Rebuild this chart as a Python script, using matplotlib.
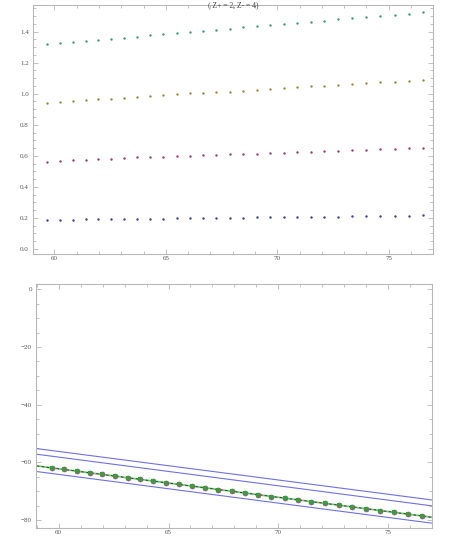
import numpy as np
import matplotlib
matplotlib.use('Agg')
import matplotlib.pyplot as plt
from matplotlib.ticker import MultipleLocator

# x positions shared by both panels
xVals = [59.69, 60.25, 60.84, 61.41, 61.97, 62.56, 63.14, 63.71, 64.29, 64.89,
         65.48, 66.07, 66.66, 67.26, 67.87, 68.47, 69.07, 69.68, 70.29, 70.89,
         71.50, 72.11, 72.74, 73.37, 73.99, 74.62, 75.26, 75.90, 76.55]

# top panel series
blueVals = [0.187, 0.189, 0.189, 0.191, 0.191, 0.193, 0.193, 0.194, 0.195, 0.196,
            0.197, 0.198, 0.200, 0.200, 0.202, 0.202, 0.203, 0.204, 0.205, 0.206,
            0.207, 0.208, 0.209, 0.210, 0.211, 0.212, 0.215, 0.215, 0.217]
redVals = [0.562, 0.569, 0.571, 0.575, 0.580, 0.582, 0.586, 0.590, 0.592, 0.595,
           0.597, 0.601, 0.603, 0.607, 0.609, 0.610, 0.614, 0.616, 0.618, 0.622,
           0.627, 0.631, 0.633, 0.637, 0.640, 0.644, 0.646, 0.650, 0.652]
oliveVals = [0.941, 0.947, 0.951, 0.957, 0.964, 0.968, 0.974, 0.979, 0.983, 0.989,
             0.996, 1.002, 1.007, 1.011, 1.013, 1.019, 1.026, 1.032, 1.036, 1.041,
             1.047, 1.051, 1.058, 1.062, 1.066, 1.073, 1.077, 1.084, 1.090]
greenVals = [1.318, 1.324, 1.331, 1.339, 1.346, 1.352, 1.361, 1.367, 1.376, 1.384,
             1.391, 1.397, 1.406, 1.412, 1.419, 1.427, 1.436, 1.442, 1.449, 1.457,
             1.464, 1.471, 1.478, 1.487, 1.496, 1.502, 1.509, 1.516, 1.524]

# bottom panel points
bottomVals = [-61.9, -62.4, -63.0, -63.6, -64.1, -64.7, -65.3, -65.9, -66.4, -67.0,
              -67.6, -68.2, -68.8, -69.4, -70.0, -70.6, -71.2, -71.8, -72.4, -73.0,
              -73.6, -74.2, -74.8, -75.4, -76.0, -76.7, -77.3, -77.9, -78.6]

# straight lines: value at x=59 and x=77
lineX = [59, 77]
fitLine = [-61.2, -79.0]
bandLines = [[-55.2, -73.0], [-57.15, -75.05], [-63.15, -81.05]]

title = '( Z+ = 2, Z- = 4)'

plt.rcParams['font.family'] = ['Liberation Serif', 'DejaVu Serif']
frameCol = '#b8b8b8'
tickLblCol = '#555555'

def styleFrame(ax, xmaj, xmin, ymaj, ymin):
   for s in ax.spines.values():
      s.set_color(frameCol)
      s.set_linewidth(0.8)
   ax.xaxis.set_major_locator(MultipleLocator(xmaj))
   ax.xaxis.set_minor_locator(MultipleLocator(xmin))
   ax.yaxis.set_major_locator(MultipleLocator(ymaj))
   ax.yaxis.set_minor_locator(MultipleLocator(ymin))
   ax.tick_params(which='both', direction='in', top=True, right=True,
                  color=frameCol, width=0.6, labelsize=5, labelcolor=tickLblCol)
   ax.tick_params(axis='x', pad=1.5)
   ax.tick_params(axis='y', pad=3)
   ax.tick_params(which='major', length=3.5)
   ax.tick_params(which='minor', length=2)

fig = plt.figure(figsize=(4.57, 5.36), dpi=100)

ax1 = fig.add_axes([0.0722, 0.5256, 0.876, 0.465])
ax1.scatter(xVals, blueVals, s=3, color=(0.24, 0.24, 0.6), linewidths=0)
ax1.scatter(xVals, redVals, s=3, color=(0.6, 0.24, 0.42), linewidths=0)
ax1.scatter(xVals, oliveVals, s=3, color=(0.6, 0.557, 0.24), linewidths=0)
ax1.scatter(xVals, greenVals, s=3, color=(0.24, 0.6, 0.45), linewidths=0)
ax1.set_xlim([59.04, 77.0])
ax1.set_ylim([-0.034, 1.571])
ax1.yaxis.set_major_formatter(matplotlib.ticker.FormatStrFormatter('%.1f'))
styleFrame(ax1, 5, 1, 0.2, 0.05)
ax1.text(0.5, 1.0, title, transform=ax1.transAxes, ha='center', va='center',
         fontsize=5.5, color='#444444')

ax2 = fig.add_axes([0.0788, 0.0155, 0.867, 0.454])
for bl in bandLines:
   ax2.plot(lineX, bl, color='#7070e0', linewidth=0.8)
ax2.plot(lineX, fitLine, color='#7cc47c', linewidth=1.3)
ax2.plot(lineX, fitLine, color='#1a3a1a', linewidth=0.6, linestyle=(0, (3, 3)))
ax2.plot(xVals, bottomVals, linestyle='none', marker='o', markersize=3.6,
         markerfacecolor='#7a5a6a', markeredgecolor='#8a6a7a', markeredgewidth=0.5)
ax2.plot(xVals, bottomVals, linestyle='none', marker='s', markersize=2.3,
         markerfacecolor='#3d9a3d', markeredgewidth=0)
ax2.set_xlim([58.97, 77.0])
ax2.set_ylim([-82.6, 1.7])
styleFrame(ax2, 5, 1, 20, 5)

plt.savefig('out.png', dpi=100)
